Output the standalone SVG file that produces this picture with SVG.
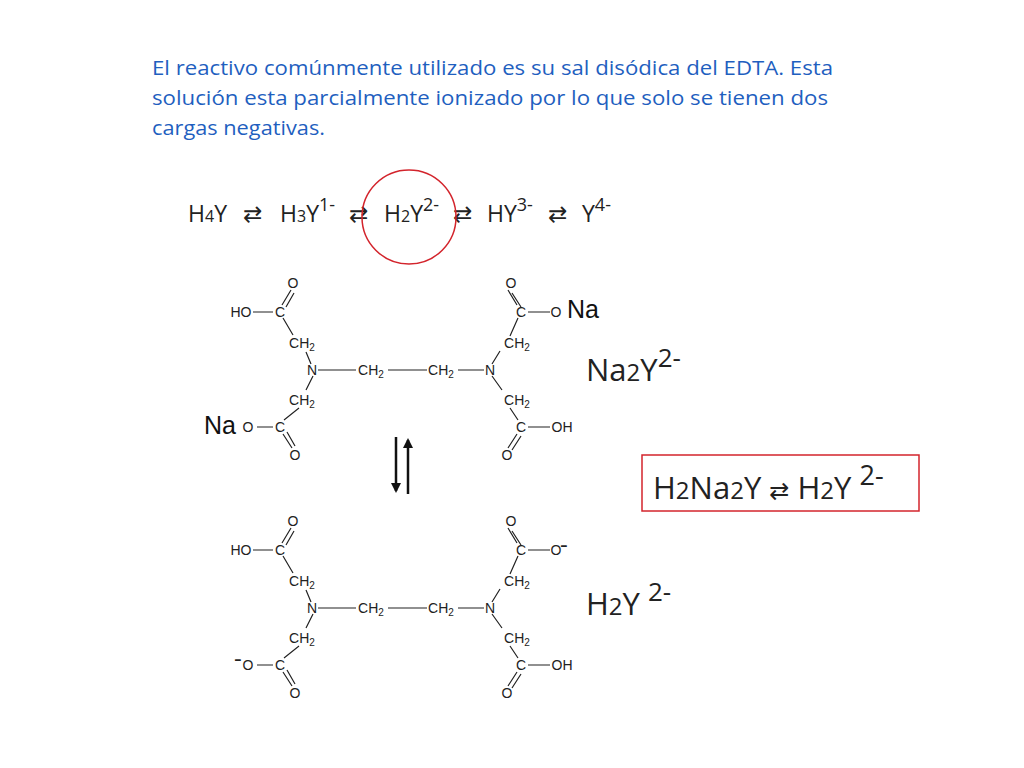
<svg xmlns="http://www.w3.org/2000/svg" width="1024" height="768" viewBox="0 0 1024 768">
<style>
.t{font-family:"Open Sans",Lato,sans-serif;fill:#1f5fbf;font-size:20.5px}
.c{font-family:"Open Sans",Lato,sans-serif;fill:#222}
.ar{font-family:"DejaVu Sans",sans-serif}
.a{font-family:"Liberation Sans",Arial,sans-serif;fill:#222;font-size:14px;text-anchor:middle}
.s{font-size:10px}
.b{stroke:#222;stroke-width:1.2;fill:none}
.na{font-family:"Liberation Sans",Arial,sans-serif;fill:#111;font-size:25px}
</style>
<defs>
<marker id="ah" viewBox="0 0 10 10" refX="8" refY="5" markerWidth="4" markerHeight="4" orient="auto"><path d="M0,0 L10,5 L0,10 z" fill="#111"/></marker>
<g id="edta">
<text class="a" x="293" y="288">O</text>
<text class="a" x="280" y="317">C</text>
<text class="a" x="241" y="317">HO</text>
<text class="a" x="302" y="348">CH<tspan class="s" dy="3">2</tspan></text>
<text class="a" x="312" y="375">N</text>
<text class="a" x="371" y="375">CH<tspan class="s" dy="3">2</tspan></text>
<text class="a" x="441" y="375">CH<tspan class="s" dy="3">2</tspan></text>
<text class="a" x="490" y="375">N</text>
<text class="a" x="511" y="288">O</text>
<text class="a" x="521" y="317">C</text>
<text class="a" x="556" y="317">O</text>
<text class="a" x="517" y="348">CH<tspan class="s" dy="3">2</tspan></text>
<text class="a" x="302" y="405">CH<tspan class="s" dy="3">2</tspan></text>
<text class="a" x="280" y="432">C</text>
<text class="a" x="248" y="432">O</text>
<text class="a" x="295" y="460">O</text>
<text class="a" x="517" y="405">CH<tspan class="s" dy="3">2</tspan></text>
<text class="a" x="521" y="432">C</text>
<text class="a" x="562" y="432">OH</text>
<text class="a" x="507" y="460">O</text>
<path class="b" d="M253,312H273 M282,305L291,290 M286,307L294,293 M283,318L293,335 M306,352L311,364 M318,370H356 M388,370H427 M458,370H484 M492,364L500,351 M510,336L518,318 M517,305L508,290 M521,307L512,293 M528,312H550 M313,376L306,390 M299,408L284,420 M257,427H273 M283,434L292,448 M287,432L295,446 M492,376L502,390 M510,408L518,420 M517,434L508,448 M521,436L512,450 M528,427H550"/>
</g>
</defs>
<text class="t"><tspan x="152" y="75" textLength="681" lengthAdjust="spacingAndGlyphs">El reactivo comúnmente utilizado es su sal disódica del EDTA. Esta</tspan><tspan x="152" y="105" textLength="676" lengthAdjust="spacingAndGlyphs">solución esta parcialmente ionizado por lo que solo se tienen dos</tspan><tspan x="152" y="135" textLength="173" lengthAdjust="spacingAndGlyphs">cargas negativas.</tspan></text>
<text class="c" font-size="23" y="222"><tspan x="188">H</tspan><tspan font-size="16">4</tspan><tspan>Y</tspan><tspan class="ar" x="243">⇄</tspan><tspan x="280">H</tspan><tspan font-size="16">3</tspan><tspan>Y</tspan><tspan dy="-11" font-size="18">1-</tspan><tspan class="ar" x="349" dy="11">⇄</tspan><tspan x="384">H</tspan><tspan font-size="16">2</tspan><tspan>Y</tspan><tspan dy="-11" font-size="18">2-</tspan><tspan class="ar" x="453" dy="11">⇄</tspan><tspan x="487">HY</tspan><tspan dy="-11" font-size="18">3-</tspan><tspan class="ar" x="548" dy="11">⇄</tspan><tspan x="582">Y</tspan><tspan dy="-11" font-size="18">4-</tspan></text>
<g id="circle"><circle cx="409" cy="217" r="47" fill="none" stroke="#d3242c" stroke-width="1.5"/></g>
<g id="mol1"><use href="#edta"/><text class="na" x="567" y="318">Na</text><text class="na" x="204" y="434">Na</text></g>
<g id="mol2"><use href="#edta" y="238"/><text class="c" font-size="24" x="560" y="553">-</text><text class="c" font-size="24" x="234" y="667">-</text></g>
<g id="arrows"><path d="M396,437V491" stroke="#111" stroke-width="2.5" marker-end="url(#ah)"/><path d="M408,494V440" stroke="#111" stroke-width="2.5" marker-end="url(#ah)"/></g>
<g id="na2y"><text class="c" font-size="31" x="586" y="381">Na<tspan font-size="24">2</tspan>Y<tspan font-size="26" dy="-14">2-</tspan></text></g>
<g id="h2y"><text class="c" font-size="31" x="586" y="615">H<tspan font-size="24">2</tspan>Y <tspan font-size="26" dy="-14">2-</tspan></text></g>
<g id="box"><rect x="642" y="455" width="277" height="56" fill="none" stroke="#d3242c" stroke-width="1.5"/>
<text class="c" font-size="31" x="653" y="499">H<tspan font-size="24">2</tspan>Na<tspan font-size="24">2</tspan>Y <tspan class="ar" font-size="24">⇄</tspan> H<tspan font-size="24">2</tspan>Y <tspan font-size="27" dy="-14">2-</tspan></text></g>
</svg>
